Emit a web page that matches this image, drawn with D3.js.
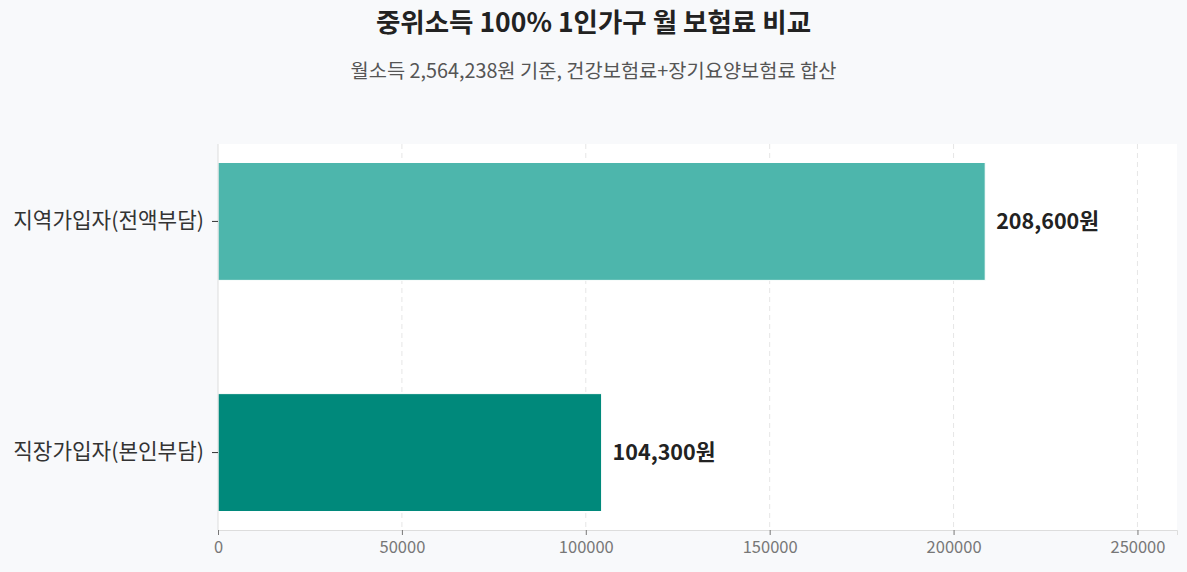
<!DOCTYPE html>
<html>
<head>
<meta charset="utf-8">
<script src="https://cdn.jsdelivr.net/npm/d3@7"></script>
<style>
  html, body { margin: 0; padding: 0; background: #f8f9fb; }
  body { font-family: "Noto Sans CJK KR", "Noto Sans", sans-serif; }
</style>
</head>
<body>
<svg id="chart" width="1187" height="572"></svg>
<script>
// Chart data
const categories = ["지역가입자(전액부담)", "직장가입자(본인부담)"];
const premiums = [208600, 104300];
const barColors = ["#4db6ac", "#00897b"];
const xTicks = [0, 50000, 100000, 150000, 200000, 250000];

const titleText = "중위소득 100% 1인가구 월 보험료 비교";
const subtitleText = "월소득 2,564,238원 기준, 건강보험료+장기요양보험료 합산";

const width = 1187, height = 572;
const margin = { top: 144, right: 10, bottom: 42, left: 218 };
const innerW = width - margin.left - margin.right;
const innerH = height - margin.top - margin.bottom;

const svg = d3.select("#chart");

// Titles
svg.append("text")
  .attr("x", width / 2)
  .attr("y", 32)
  .attr("text-anchor", "middle")
  .style("font-size", "26.5px")
  .style("font-weight", "bold")
  .style("fill", "#222")
  .text(titleText);

svg.append("text")
  .attr("x", width / 2)
  .attr("y", 78)
  .attr("text-anchor", "middle")
  .style("font-size", "19.8px")
  .style("fill", "#555")
  .text(subtitleText);

const g = svg.append("g")
  .attr("transform", `translate(${margin.left}, ${margin.top})`);

// Plot background
g.append("rect")
  .attr("width", innerW)
  .attr("height", innerH)
  .attr("fill", "#fff");

const x = d3.scaleLinear()
  .domain([0, d3.max(premiums) * 1.25])
  .range([0, innerW]);

const y = d3.scaleBand()
  .domain(categories)
  .range([0, innerH])
  .paddingInner(0.49)
  .paddingOuter(0.08);

// Gridlines
g.append("g")
  .selectAll("line")
  .data(xTicks.slice(1))
  .enter()
  .append("line")
  .attr("x1", d => x(d))
  .attr("x2", d => x(d))
  .attr("y1", 0)
  .attr("y2", innerH)
  .attr("stroke", "#e6e6e6")
  .attr("stroke-dasharray", "5,4");

// Bars
g.selectAll("rect.bar")
  .data(premiums)
  .enter()
  .append("rect")
  .attr("class", "bar")
  .attr("x", 0)
  .attr("y", (d, i) => y(categories[i]))
  .attr("width", d => x(d))
  .attr("height", y.bandwidth())
  .attr("fill", (d, i) => barColors[i])
  .attr("stroke", "#fff")
  .attr("stroke-width", 1);

// Value labels
g.selectAll("text.value")
  .data(premiums)
  .enter()
  .append("text")
  .attr("class", "value")
  .attr("x", d => x(d) + 11)
  .attr("y", (d, i) => y(categories[i]) + y.bandwidth() / 2)
  .attr("dy", "0.35em")
  .style("font-size", "21.5px")
  .style("font-weight", "bold")
  .style("fill", "#222")
  .text(d => d3.format(",")(d) + "원");

// X axis
const xAxis = g.append("g")
  .attr("transform", `translate(0, ${innerH})`)
  .call(d3.axisBottom(x).tickValues(xTicks).tickFormat(d3.format("d")).tickSize(5).tickPadding(6));
xAxis.select(".domain").attr("stroke", "#ddd");
xAxis.selectAll(".tick line").attr("stroke", "#777");
xAxis.selectAll(".tick text")
  .style("font-size", "16.5px")
  .style("fill", "#777")
  .style("font-family", "'Noto Sans CJK KR', 'Noto Sans', sans-serif");

// Y axis
const yAxis = g.append("g")
  .call(d3.axisLeft(y).tickSize(6).tickPadding(8));
yAxis.select(".domain").attr("stroke", "#ddd").attr("d", `M0,0V${innerH}`);
yAxis.selectAll(".tick line").attr("stroke", "#333");
yAxis.selectAll(".tick text")
  .style("font-size", "21.3px")
  .style("fill", "#333")
  .style("font-family", "'Noto Sans CJK KR', 'Noto Sans', sans-serif");
</script>
</body>
</html>
